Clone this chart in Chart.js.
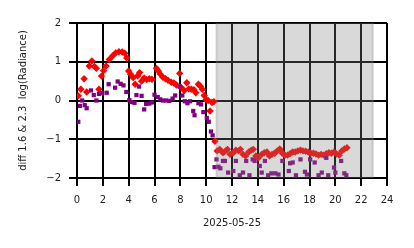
<!DOCTYPE html>
<html>
<head>
<meta charset="utf-8">
<script src="https://cdn.jsdelivr.net/npm/chart.js@4/dist/chart.umd.min.js"></script>
<style>
  html, body { margin: 0; padding: 0; background: #fff; }
  #wrap { width: 414px; height: 248px; }
</style>
</head>
<body>
<div id="wrap"><canvas id="diffChart" width="414" height="248"></canvas></div>
<script>
/* ======================
   DATA (hours of day, log radiance diff)
====================== */
const redHours = [0.1, 0.3, 0.55, 0.75, 0.95, 1.15, 1.35, 1.5, 1.7, 1.9, 2.05, 2.25, 2.5, 2.75, 3.0, 3.25, 3.5, 3.7, 3.85, 4.0,
  4.15, 4.35, 4.5, 4.7, 4.85, 5.0, 5.2, 5.4, 5.6, 5.8, 6.15, 6.3, 6.45, 6.65, 6.85, 7.05, 7.3, 7.5, 7.7, 7.95,
  8.05, 8.3, 8.5, 8.65, 8.85, 9.05, 9.2, 9.4, 9.55, 9.7, 9.85, 10.0, 10.15, 10.3, 10.45, 10.6, 10.68, 10.85,
  11.05, 11.3, 11.5, 11.65, 11.85, 12.1, 12.3, 12.5, 12.65, 12.85, 13.05, 13.3, 13.5, 13.65, 13.85, 14.05, 14.3,
  14.5, 14.7, 14.9, 15.1, 15.3, 15.5, 15.7, 15.9, 16.1, 16.3, 16.5, 16.7, 16.9, 17.1, 17.3, 17.5, 17.7, 17.9,
  18.1, 18.3, 18.5, 18.7, 18.9, 19.1, 19.3, 19.5, 19.7, 19.9, 20.1, 20.3, 20.5, 20.7, 20.9];
const redValues = [0.12, 0.29, 0.56, 0.22, 0.89, 1.02, 0.88, 0.83, 0.29, 0.63, 0.77, 0.89, 1.06, 1.15, 1.23, 1.26, 1.25, 1.22, 1.1, 0.76,
  0.68, 0.59, 0.42, 0.64, 0.72, 0.5, 0.58, 0.54, 0.56, 0.55, 0.83, 0.76, 0.68, 0.6, 0.56, 0.52, 0.47, 0.45, 0.4, 0.7,
  0.34, 0.26, 0.46, 0.3, 0.29, 0.28, 0.2, 0.42, 0.37, 0.29, 0.13, 0.02, 0.0, -0.27, -0.05, -0.03, -1.05, -1.3,
  -1.26, -1.35, -1.3, -1.26, -1.39, -1.35, -1.28, -1.3, -1.26, -1.39, -1.43, -1.33, -1.28, -1.26, -1.43, -1.48, -1.39,
  -1.35, -1.33, -1.43, -1.39, -1.36, -1.3, -1.25, -1.36, -1.41, -1.41, -1.37, -1.33, -1.33, -1.3, -1.28, -1.3, -1.31, -1.33,
  -1.36, -1.36, -1.38, -1.41, -1.39, -1.41, -1.37, -1.35, -1.36, -1.33, -1.38, -1.41, -1.3, -1.25, -1.22];

const purpleHours = [0.1, 0.23, 0.4, 0.6, 0.75, 1.08, 1.3, 1.5, 1.7, 1.95, 2.3, 2.45, 2.95, 3.15, 3.38, 3.6, 3.82, 4.05, 4.2, 4.45,
  4.6, 4.8, 5.0, 5.2, 5.35, 5.6, 5.8, 6.0, 6.25, 6.45, 6.65, 6.9, 7.15, 7.4, 7.6, 7.95, 8.15, 8.35, 8.55, 8.75,
  9.0, 9.1, 9.4, 9.6, 9.78, 10.05, 10.2, 10.37, 10.5, 10.65, 10.8, 10.95,
  11.1, 11.3, 11.45, 11.7, 12.1, 12.3, 12.6, 12.85, 13.1, 13.35, 13.6, 13.75, 14.15, 14.3, 14.55, 14.8, 15.05, 15.35,
  15.6, 15.9, 16.4, 16.5, 16.7, 16.95, 17.3, 17.65, 17.8, 18.05, 18.4, 18.7, 18.95, 19.3, 19.45, 19.9, 20.0, 20.45,
  20.7, 20.85];
const purpleValues = [-0.55, -0.14, 0.0, -0.12, -0.2, 0.26, 0.14, 0.0, 0.17, 0.19, 0.2, 0.42, 0.33, 0.49, 0.43, 0.39, 0.22, 0.01, -0.04, -0.06,
  0.14, 0.36, 0.12, -0.23, -0.09, -0.08, -0.05, 0.15, 0.09, 0.03, 0.0, 0.0, -0.01, 0.05, 0.13, 0.36, 0.13, -0.02, -0.07, -0.02,
  -0.27, -0.38, -0.07, -0.1, -0.3, -0.45, -0.55, -0.8, -0.9, -1.72, -1.52, -1.71,
  -1.75, -1.56, -1.56, -1.86, -1.82, -1.56, -1.93, -1.86, -1.56, -1.93, -1.52, -1.56, -1.69, -1.86, -1.56, -1.93, -1.88, -1.88,
  -1.91, -1.56, -1.82, -1.62, -1.6, -1.93, -1.52, -1.84, -1.91, -1.52, -1.6, -1.93, -1.86, -1.48, -1.93, -1.73, -1.86, -1.56,
  -1.88, -1.93];

const xTicks = [0, 2, 4, 6, 8, 10, 12, 14, 16, 18, 20, 22, 24];
const yTicks = [-2, -1, 0, 1, 2];
const bandStart = 10.8;
const bandEnd = 22.9;

const toPoints = (xs, ys) => xs.map((h, i) => ({ x: h, y: ys[i] }));

/* ======================
   SHADED BAND (drawn over points, like an axvspan)
====================== */
const bandPlugin = {
    id: "band",
    afterDatasetsDraw(chart) {
        const { ctx, chartArea, scales } = chart;
        const x0 = scales.x.getPixelForValue(bandStart);
        const x1 = scales.x.getPixelForValue(bandEnd);
        ctx.save();
        ctx.fillStyle = "rgba(128,128,128,0.3)";
        ctx.fillRect(x0, chartArea.top, x1 - x0, chartArea.bottom - chartArea.top);
        ctx.strokeStyle = "rgba(128,128,128,0.3)";
        ctx.lineWidth = 2;
        ctx.beginPath();
        ctx.moveTo(x0, chartArea.top); ctx.lineTo(x0, chartArea.bottom);
        ctx.moveTo(x1, chartArea.top); ctx.lineTo(x1, chartArea.bottom);
        ctx.stroke();
        ctx.restore();
    }
};

const font = { family: "'DejaVu Sans'", size: 10 };

new Chart(document.getElementById("diffChart"), {
    type: "scatter",
    data: {
        datasets: [
            {
                label: "purple",
                data: toPoints(purpleHours, purpleValues),
                backgroundColor: "#800080",
                borderWidth: 0,
                pointStyle: "rect",
                pointRadius: 3,
                order: 0
            },
            {
                label: "red",
                data: toPoints(redHours, redValues),
                backgroundColor: "#ff0000",
                borderWidth: 0,
                pointStyle: "rectRot",
                pointRadius: 3.7,
                order: 1
            }
        ]
    },
    options: {
        responsive: false,
        animation: false,
        layout: { padding: { left: 13, top: 23, right: 27, bottom: 15 } },
        plugins: {
            legend: { display: false },
            tooltip: { enabled: false }
        },
        scales: {
            x: {
                type: "linear",
                min: 0,
                max: 24,
                afterBuildTicks: s => { s.ticks = xTicks.map(v => ({ value: v })); },
                afterFit: s => { s.height = 55; },
                grid: { color: "#000", lineWidth: 2, tickLength: 8, tickColor: "#000", tickWidth: 2 },
                border: { color: "#000", width: 2 },
                ticks: { color: "#222", font: font, padding: 8, maxRotation: 0 },
                title: { display: true, text: "2025-05-25", color: "#222", font: font }
            },
            y: {
                min: -2,
                max: 2,
                afterBuildTicks: s => { s.ticks = yTicks.map(v => ({ value: v })); },
                afterFit: s => { s.width = 64; },
                grid: { color: "#000", lineWidth: 2, tickLength: 8, tickColor: "#000", tickWidth: 2 },
                border: { color: "#000", width: 2 },
                ticks: {
                    color: "#222", font: font, padding: 8,
                    callback: v => (v < 0 ? "\u2212" + Math.abs(v) : String(v))
                },
                title: { display: true, text: "diff 1.6 & 2.3  log(Radiance)", color: "#222", font: font }
            }
        }
    },
    plugins: [bandPlugin]
});
</script>
</body>
</html>
